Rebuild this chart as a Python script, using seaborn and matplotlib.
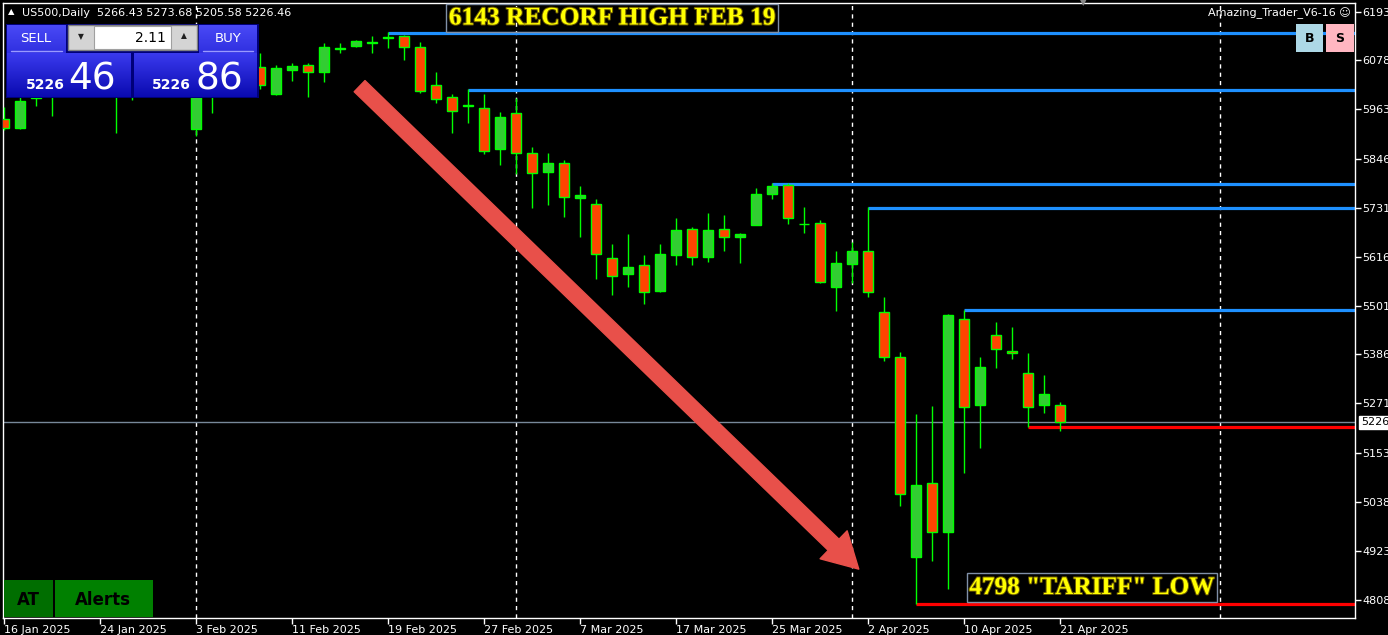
import numpy as np
import matplotlib
matplotlib.use("Agg")
import matplotlib.pyplot as plt
import matplotlib.patheffects as pe
from matplotlib.patches import Rectangle, FancyArrowPatch
from matplotlib.colors import LinearSegmentedColormap
from matplotlib.transforms import blended_transform_factory
import seaborn as sns

# daily OHLC, US500, 16 Jan 2025 .. 21 Apr 2025 (one entry per bar)
opens = [5940, 5919, 5990, 6005, 6050, 6080, 6120, 6060, 6015, 6065, 6045, 6070,
         5917, 5995, 6035, 6060, 6063, 5999, 6056, 6067, 6051, 6106, 6112, 6120,
         6130, 6136, 6110, 6020, 5992, 5970, 5966, 5870, 5954, 5860, 5815, 5837,
         5754, 5740, 5613, 5575, 5596, 5535, 5620, 5681, 5615, 5681, 5662, 5691,
         5764, 5785, 5694, 5695, 5545, 5599, 5629, 5486, 5380, 4909, 5083, 4968,
         5469, 5267, 5432, 5394, 5342, 5267, 5266.43]
highs = [5968, 6000, 6030, 6055, 6100, 6125, 6128, 6070, 6070, 6075, 6085, 6110,
         6000, 6045, 6065, 6095, 6096, 6067, 6072, 6072, 6119, 6119, 6125, 6136,
         6145, 6138, 6121, 6051, 5998, 6011, 5999, 5957, 5990, 5874, 5860, 5844,
         5782, 5752, 5646, 5669, 5620, 5646, 5707, 5686, 5719, 5714, 5672, 5778,
         5790, 5790, 5733, 5702, 5629, 5651, 5733, 5521, 5392, 5246, 5265, 5481,
         5491, 5380, 5462, 5451, 5389, 5338, 5273.68]
lows = [5914, 5917, 5971, 5947, 6045, 6060, 6090, 5907, 5985, 6010, 6030, 6025,
        5900, 5954, 6005, 6050, 6011, 5997, 6030, 5992, 6027, 6096, 6110, 6096,
        6107, 6079, 6001, 5978, 5907, 5931, 5858, 5832, 5811, 5731, 5738, 5709,
        5662, 5564, 5526, 5545, 5505, 5533, 5596, 5596, 5604, 5629, 5601, 5690,
        5752, 5693, 5672, 5555, 5488, 5554, 5521, 5371, 5029, 4798, 4900, 4834,
        5107, 5166, 5354, 5375, 5215, 5248, 5205.58]
closes = [5919, 5983, 6010, 6050, 6085, 6118, 6100, 6010, 6065, 6040, 6070, 6040,
          5995, 6037, 6060, 6083, 6020, 6060, 6065, 6051, 6110, 6108, 6124, 6122,
          6132, 6110, 6006, 5987, 5959, 5972, 5865, 5945, 5860, 5813, 5837, 5757,
          5761, 5622, 5571, 5592, 5533, 5622, 5679, 5615, 5679, 5662, 5669, 5764,
          5782, 5707, 5692, 5556, 5601, 5629, 5533, 5380, 5057, 5079, 4968, 5479,
          5262, 5356, 5399, 5389, 5262, 5293, 5226.46]

date_labels = ["16 Jan 2025", "24 Jan 2025", "3 Feb 2025", "11 Feb 2025", "19 Feb 2025",
               "27 Feb 2025", "7 Mar 2025", "17 Mar 2025", "25 Mar 2025", "2 Apr 2025",
               "10 Apr 2025", "21 Apr 2025"]
label_bars = [0, 6, 12, 18, 24, 30, 36, 42, 48, 54, 60, 66]
price_ticks = [6193, 6078, 5963, 5846, 5731, 5616, 5501, 5386, 5271, 5153, 5038, 4923, 4808]
month_bars = [12, 32, 53, 76]

# resistance (blue) and support (red) levels, with the bar they start from
res_levels = [6143, 6008, 5787, 5731, 5490]
res_start = [24, 29, 48, 54, 60]
sup_levels = [5215, 4798]
sup_start = [64, 57]
last_price = 5226.46

sns.set_theme(style="dark", rc={"axes.facecolor": "black", "figure.facecolor": "black",
                                "axes.edgecolor": "white", "text.color": "white",
                                "xtick.color": "white", "ytick.color": "white"})
plt.rcParams["font.family"] = ["DejaVu Sans"]

W, H = 1388, 635
fig = plt.figure(figsize=(W / 100, H / 100), dpi=100)
ax = fig.add_axes([3 / W, 17 / H, 1352 / W, 615 / H])
ax.set_facecolor("black")
for s in ax.spines.values():
    s.set_color("white")
    s.set_linewidth(1)

n = len(opens)
xs = np.arange(n)
bull = "#32cd32"
bear = "#ff4500"
edge = "#00ff00"

# separators and level lines
for b in month_bars:
    ax.axvline(b, color="white", lw=1, ls=(0, (3, 3)), zorder=1)
ax.axhline(last_price, color="#778899", lw=1, zorder=1)
for lv, st in zip(res_levels, res_start):
    ax.hlines(lv, st, 90, color="#1e90ff", lw=2.3, zorder=2)
for lv, st in zip(sup_levels, sup_start):
    ax.hlines(lv, st, 90, color="#ff0000", lw=2.3, zorder=2)

# candles
ax.vlines(xs, lows, highs, color=edge, lw=1, zorder=3)
bw = 0.68
for i in range(n):
    o, c = opens[i], closes[i]
    lo = min(o, c)
    h = max(abs(c - o), 1.0)
    ax.add_patch(Rectangle((i - bw / 2, lo), bw, h, facecolor=bull if c >= o else bear,
                           edgecolor=edge, lw=1, zorder=4))

ax.set_xlim(-0.0625, 84.44)
ax.set_ylim(4765.5, 6213.2)

ax.set_xticks(label_bars)
ax.set_xticklabels(date_labels, ha="left")
ax.yaxis.tick_right()
ax.set_yticks(price_ticks)
ax.set_yticklabels([str(p) for p in price_ticks])
ax.tick_params(axis="both", which="both", length=4, width=1, color="white",
               labelsize=8, labelcolor="white", direction="out", pad=1.5)
ax.tick_params(axis="x", bottom=True, pad=1)
ax.tick_params(axis="y", right=True, left=False)
ax.grid(False)

# current price tag
tr = blended_transform_factory(ax.transAxes, ax.transData)
ax.text(1.0045, last_price, "5226", transform=tr, fontsize=8, color="black",
        va="center", ha="left", clip_on=False,
        bbox=dict(boxstyle="square,pad=0.15", facecolor="white", edgecolor="white"))

# big trend arrow (data coordinates)
arr = FancyArrowPatch((22.1, 6022), (53.55, 4876), transform=ax.transData,
                      arrowstyle="simple,head_length=1.8,head_width=2.0,tail_width=0.8",
                      mutation_scale=14, color="#e8504a", zorder=6)
ax.add_patch(arr)

# overlay in pixel coordinates for the terminal widgets
ov = fig.add_axes([0, 0, 1, 1], zorder=10)
ov.set_xlim(0, W)
ov.set_ylim(H, 0)
ov.axis("off")


def grad_box(x0, y0, x1, y1, ctop, cbot):
    cmap = LinearSegmentedColormap.from_list("g", [ctop, cbot])
    g = np.linspace(0, 1, 64).reshape(-1, 1)
    ov.imshow(g, cmap=cmap, extent=(x0, x1, y1, y0), aspect="auto",
              interpolation="bilinear", zorder=2)


# trade panel
ov.add_patch(Rectangle((6, 24), 253, 74, facecolor="#00007a", edgecolor="none", zorder=1))
grad_box(7, 25, 66, 53, "#4a4af6", "#2f2fe0")
grad_box(199, 25, 257, 53, "#4a4af6", "#2f2fe0")
ov.plot([11, 62], [51, 51], color="#9a9aff", lw=1, zorder=3)
ov.plot([203, 253], [51, 51], color="#9a9aff", lw=1, zorder=3)
ov.text(36, 39, "SELL", color="white", fontsize=9.5, ha="center", va="center", zorder=4)
ov.text(228, 39, "BUY", color="white", fontsize=9.5, ha="center", va="center", zorder=4)
ov.add_patch(Rectangle((68, 25), 129, 25, facecolor="#d4d4d4", edgecolor="#808080", lw=1, zorder=3))
ov.add_patch(Rectangle((94, 26), 77, 23, facecolor="white", edgecolor="#a0a0a0", lw=0.8, zorder=4))
ov.text(81, 37, "▼", color="#202020", fontsize=5.5, ha="center", va="center", zorder=5)
ov.text(184, 36, "▲", color="#202020", fontsize=5.5, ha="center", va="center", zorder=5)
ov.text(166, 37.5, "2.11", color="black", fontsize=10, ha="right", va="center", zorder=5)
grad_box(7, 53, 131, 97, "#3a3aee", "#0a0ab0")
grad_box(134, 53, 257, 97, "#3a3aee", "#0a0ab0")
ov.text(65, 89, "5226", color="white", fontsize=10, fontweight="bold", ha="right",
        va="baseline", zorder=5)
ov.text(68, 89, "46", color="white", fontsize=27, ha="left", va="baseline", zorder=5)
ov.text(191, 89, "5226", color="white", fontsize=10, fontweight="bold", ha="right",
        va="baseline", zorder=5)
ov.text(196, 89, "86", color="white", fontsize=27, ha="left", va="baseline", zorder=5)

# header texts
ov.text(11, 12, "▲", color="white", fontsize=6, ha="center", va="center")
ov.text(22, 12.5, "US500,Daily  5266.43 5273.68 5205.58 5226.46", color="white",
        fontsize=8, ha="left", va="center")
ov.text(1351, 13, "Amazing_Trader_V6-16 ☺", color="white", fontsize=8,
        ha="right", va="center")
ov.text(1083, 3, "▼", color="#8a8a8a", fontsize=6, ha="center", va="center")

# B / S buttons
ov.add_patch(Rectangle((1296, 24), 27, 28, facecolor="#add8e6", edgecolor="none", zorder=3))
ov.add_patch(Rectangle((1326, 24), 28, 28, facecolor="#ffb6c1", edgecolor="none", zorder=3))
ov.text(1309.5, 38.5, "B", color="black", fontsize=9, fontweight="bold", ha="center",
        va="center", zorder=4)
ov.text(1340, 38.5, "S", color="black", fontsize=9, fontweight="bold", ha="center",
        va="center", zorder=4)

# AT / Alerts buttons
ov.add_patch(Rectangle((4, 580), 49, 37, facecolor="#006e00", edgecolor="none", zorder=3))
ov.add_patch(Rectangle((55, 580), 98, 37, facecolor="#008000", edgecolor="none", zorder=3))
ov.text(28, 600, "AT", color="black", fontsize=12, fontweight="bold", ha="center",
        va="center", zorder=4)
ov.text(103, 600, "Alerts", color="black", fontsize=12, fontweight="bold", ha="center",
        va="center", zorder=4)

# annotations
fx = [pe.withStroke(linewidth=1.4, foreground="#6b5a00")]
ov.text(612, 18, "6143 RECORF HIGH FEB 19", color="#ffff00", fontsize=18.3,
        family=["Liberation Serif"], fontweight="bold", ha="center", va="center",
        path_effects=fx, zorder=5,
        bbox=dict(boxstyle="square,pad=0.1", facecolor="none", edgecolor="#8090a8", lw=1))
ov.text(1092, 587.5, "4798 \"TARIFF\" LOW", color="#ffff00", fontsize=18.2,
        family=["Liberation Serif"], fontweight="bold", ha="center", va="center",
        path_effects=fx, zorder=5,
        bbox=dict(boxstyle="square,pad=0.1", facecolor="none", edgecolor="#8090a8", lw=1))

fig.savefig("out.png", dpi=100, facecolor="black")
